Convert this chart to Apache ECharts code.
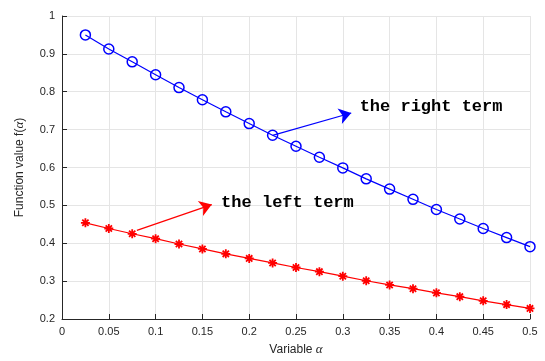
<!DOCTYPE html>
<html>
<head>
<meta charset="utf-8">
<script src="https://cdn.jsdelivr.net/npm/echarts@6/dist/echarts.min.js"></script>
<style>html,body{margin:0;padding:0;background:#fff}#c{width:545px;height:361px}</style>
</head>
<body>
<div id="c"></div>
<script>
const alphaValues = [0.025,0.05,0.075,0.1,0.125,0.15,0.175,0.2,0.225,0.25,0.275,0.3,0.325,0.35,0.375,0.4,0.425,0.45,0.475,0.5];
const rightTerm = [0.950,0.913,0.879,0.845,0.811,0.779,0.747,0.716,0.685,0.656,0.627,0.599,0.570,0.543,0.516,0.489,0.464,0.439,0.415,0.391];
const leftTerm = [0.454,0.439,0.425,0.412,0.398,0.385,0.372,0.360,0.348,0.336,0.325,0.313,0.301,0.290,0.280,0.269,0.259,0.248,0.238,0.228];
const rightArrow = [[0.225,0.685],[0.309,0.744]];
const rightLabel = {text:'the right term', at:[0.318,0.761]};
const leftArrow = [[0.080,0.434],[0.160,0.502]];
const leftLabel = {text:'the left term', at:[0.170,0.506]};

const asterisk = 'path://M0,5L10,5M5,0L5,10M1.5,1.5L8.5,8.5M8.5,1.5L1.5,8.5';
const axisColor = '#262626';
const gridColor = '#e5e5e5';
const font = 'Liberation Sans, Arial, sans-serif';

function zip(xs, ys){ return xs.map((x,i)=>[x, ys[i]]); }

const chart = echarts.init(document.getElementById('c'), null, {renderer:'canvas'});
chart.setOption({
  animation:false,
  backgroundColor:'#fff',
  grid:{left:62, right:15, top:16, bottom:38, containLabel:false},
  xAxis:{
    type:'value', min:0, max:0.5, interval:0.05,
    name:'Variable {a|α}', nameLocation:'middle', nameGap:24,
    nameTextStyle:{color:axisColor, fontSize:12, fontFamily:font,
      rich:{a:{fontFamily:'Liberation Serif, Times New Roman, serif', fontStyle:'italic', fontSize:13, color:axisColor}}},
    axisLine:{show:true, onZero:false, lineStyle:{color:axisColor, width:1}},
    axisTick:{show:true, inside:true, length:5, lineStyle:{color:axisColor}},
    axisLabel:{color:axisColor, fontSize:11, fontFamily:font, margin:7},
    splitLine:{show:true, lineStyle:{color:gridColor, width:1}}
  },
  yAxis:{
    type:'value', min:0.2, max:1, interval:0.1,
    name:'Function value f({a|α})', nameLocation:'middle', nameGap:36, nameRotate:90,
    nameTextStyle:{color:axisColor, fontSize:12, fontFamily:font,
      rich:{a:{fontFamily:'Liberation Serif, Times New Roman, serif', fontStyle:'italic', fontSize:13, color:axisColor}}},
    axisLine:{show:true, onZero:false, lineStyle:{color:axisColor, width:1}},
    axisTick:{show:true, inside:true, length:5, lineStyle:{color:axisColor}},
    axisLabel:{color:axisColor, fontSize:11, fontFamily:font, margin:7,
      formatter:v=>String(Math.round(v*10)/10)},
    splitLine:{show:true, lineStyle:{color:gridColor, width:1}}
  },
  series:[
    {
      type:'line', name:'right', data:zip(alphaValues, rightTerm),
      symbol:'circle', symbolSize:10, showAllSymbol:true,
      lineStyle:{color:'#0000ff', width:1.2},
      itemStyle:{color:'rgba(0,0,0,0)', borderColor:'#0000ff', borderWidth:1.5},
      z:3,
      markLine:{
        silent:true, symbol:['none','arrow'], symbolSize:12,
        label:{show:false},
        lineStyle:{color:'#0000ff', width:1.2, type:'solid'},
        itemStyle:{color:'#0000ff'},
        data:[[{coord:rightArrow[0]},{coord:rightArrow[1]}]]
      },
      markPoint:{
        silent:true, symbol:'circle', symbolSize:0,
        label:{show:true, position:'right', distance:0, formatter:rightLabel.text,
          color:'#000', fontFamily:'Liberation Mono, Courier New, monospace', fontWeight:'bold', fontSize:17},
        data:[{coord:rightLabel.at}]
      }
    },
    {
      type:'line', name:'left', data:zip(alphaValues, leftTerm),
      symbol:asterisk, symbolSize:9, showAllSymbol:true,
      lineStyle:{color:'#ff0000', width:1.2},
      itemStyle:{color:'rgba(0,0,0,0)', borderColor:'#ff0000', borderWidth:1.8},
      z:3,
      markLine:{
        silent:true, symbol:['none','arrow'], symbolSize:12,
        label:{show:false},
        lineStyle:{color:'#ff0000', width:1.2, type:'solid'},
        itemStyle:{color:'#ff0000'},
        data:[[{coord:leftArrow[0]},{coord:leftArrow[1]}]]
      },
      markPoint:{
        silent:true, symbol:'circle', symbolSize:0,
        label:{show:true, position:'right', distance:0, formatter:leftLabel.text,
          color:'#000', fontFamily:'Liberation Mono, Courier New, monospace', fontWeight:'bold', fontSize:17},
        data:[{coord:leftLabel.at}]
      }
    }
  ]
});
</script>
</body>
</html>
